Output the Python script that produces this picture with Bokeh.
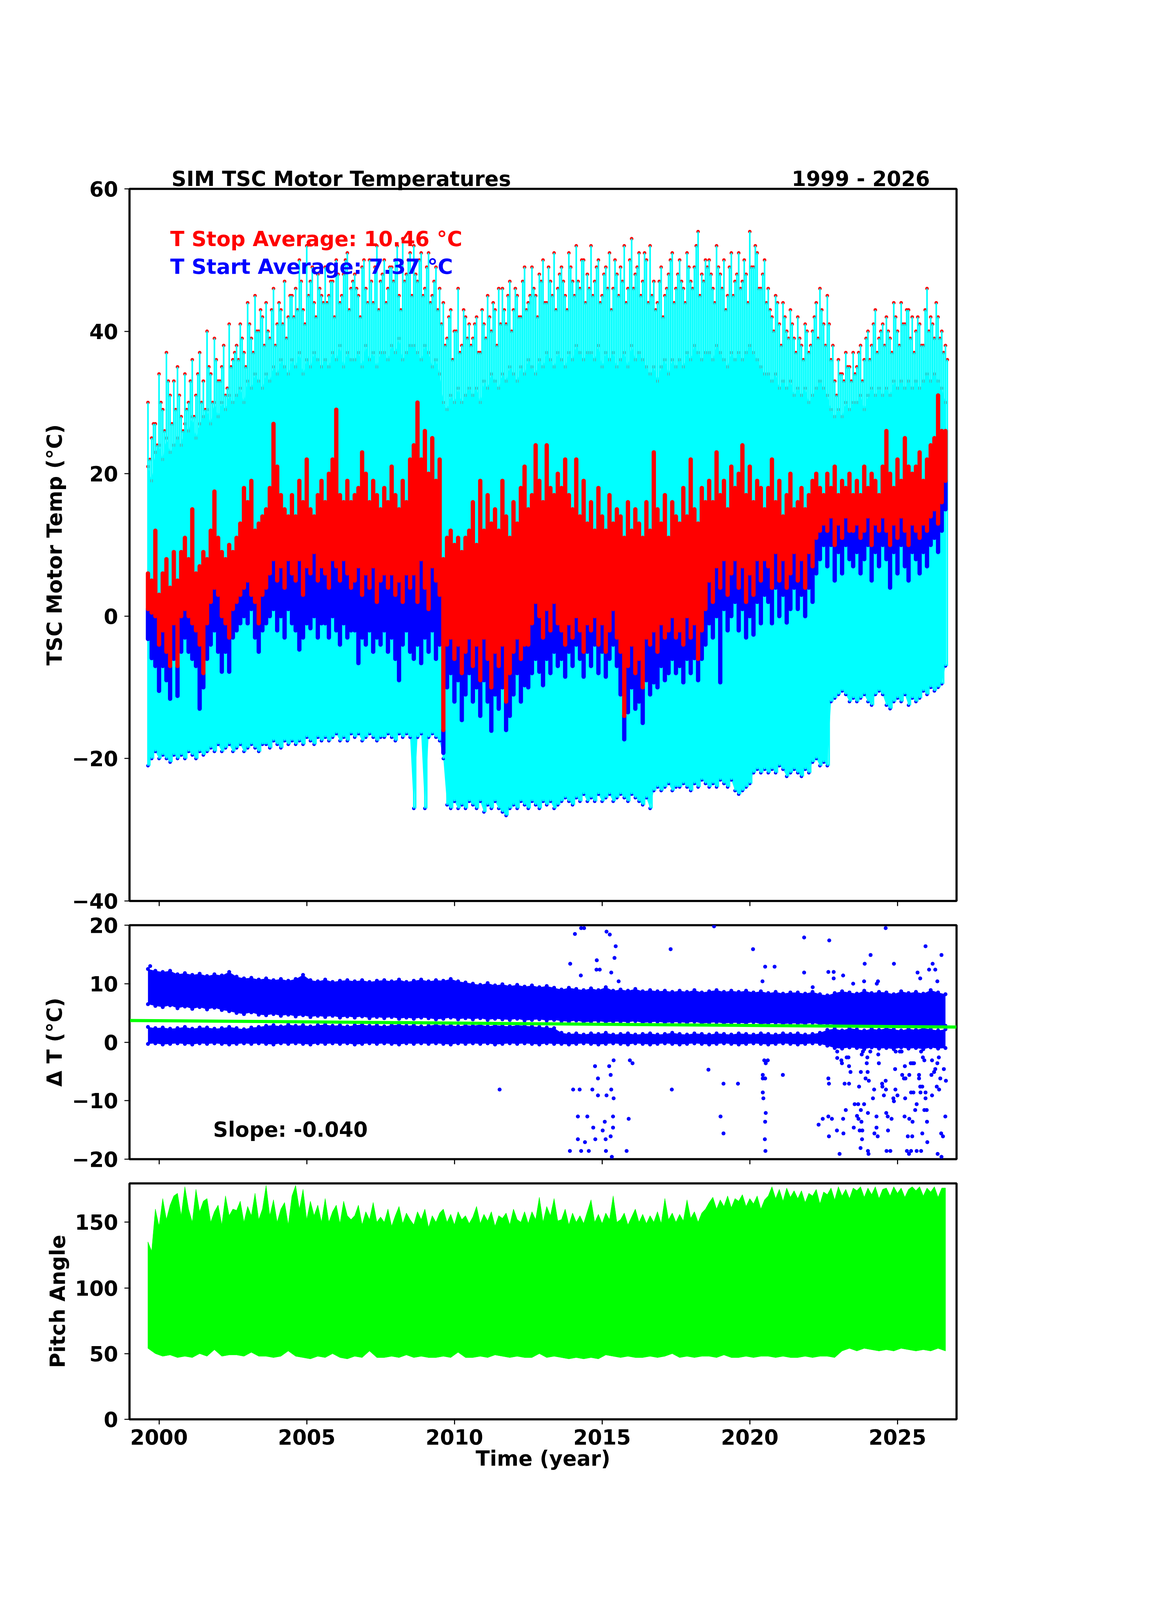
import numpy as np
from bokeh.plotting import figure
from bokeh.layouts import column
from bokeh.models import Range1d, Label, FixedTicker, LinearAxis
from bokeh.embed import file_html
from bokeh.resources import INLINE

FONT = "DejaVu Sans"
CYAN, RED, BLUE, GREEN = "#00ffff", "#ff0000", "#0000ff", "#00ff00"

# ---------------- time grids (years) ----------------
t_fine = np.round(np.arange(1999.625, 2026.626, 0.125), 4)     # 217 samples
t_mid = np.round(np.arange(1999.6875, 2026.69, 0.125), 4)      # 217 samples (between)
t_coarse = np.round(np.arange(1999.625, 2026.626, 0.25), 4)    # 109 samples

# ---------------- TSC motor temperatures (deg C) ----------------
spk_hi = [
    30, 25, 27, 34, 29, 37, 31, 33,
    35, 28, 34, 30, 36, 31, 37, 33,
    40, 34, 39, 33, 35, 31, 41, 36,
    38, 41, 37, 44, 39, 45, 40, 42,
    44, 39, 46, 41, 43, 47, 42, 45,
    46, 50, 43, 52, 47, 44, 48, 45,
    49, 45, 47, 50, 44, 48, 51, 46,
    48, 45, 49, 46, 50, 44, 52, 47,
    50, 46, 49, 50, 45, 53, 48, 51,
    52, 47, 51, 46, 51, 45, 49, 46,
    44, 39, 43, 40, 46, 38, 42, 41,
    39, 42, 37, 41, 45, 40, 43, 46,
    46, 41, 47, 43, 45, 42, 49, 44,
    49, 45, 48, 50, 44, 47, 51, 46,
    49, 45, 51, 47, 52, 46, 50, 48,
    52, 47, 50, 45, 49, 51, 46, 48,
    49, 52, 46, 53, 48, 51, 47, 50,
    52, 47, 44, 49, 45, 48, 51, 46,
    50, 46, 51, 47, 49, 54, 48, 50,
    50, 46, 52, 48, 50, 45, 51, 47,
    51, 47, 48, 54, 49, 51, 46, 50,
    46, 42, 45, 41, 44, 40, 43, 39,
    42, 38, 41, 37, 40, 44, 46, 41,
    45, 36, 33, 36, 34, 37, 35, 37,
    35, 38, 36, 40, 38, 43, 39, 41,
    42, 39, 44, 40, 44, 41, 43, 42,
    40, 41, 38, 46, 42, 39, 42, 40,
    38]

spk2_hi = [
    22, 27, 24, 30, 26, 33, 27, 29,
    31, 26, 29, 33, 28, 34, 30, 29,
    35, 30, 36, 33, 38, 32, 35, 37,
    36, 39, 35, 41, 37, 40, 43, 38,
    40, 43, 38, 44, 41, 39, 45, 42,
    43, 47, 41, 45, 49, 42, 46, 44,
    44, 47, 42, 48, 45, 50, 43, 47,
    46, 42, 50, 44, 47, 49, 43, 48,
    44, 49, 47, 52, 43, 47, 50, 45,
    48, 50, 45, 49, 44, 47, 43, 41,
    38, 42, 36, 40, 37, 43, 39, 38,
    41, 37, 43, 39, 42, 44, 38, 41,
    43, 45, 40, 46, 42, 47, 43, 45,
    46, 42, 47, 44, 49, 45, 43, 48,
    47, 43, 49, 45, 47, 50, 44, 46,
    45, 49, 44, 48, 46, 43, 50, 45,
    47, 44, 50, 46, 49, 45, 51, 44,
    45, 43, 47, 42, 46, 50, 44, 48,
    47, 44, 49, 46, 52, 45, 47, 49,
    48, 44, 49, 46, 43, 49, 45, 48,
    46, 50, 44, 49, 52, 46, 48, 44,
    43, 40, 44, 38, 42, 39, 41, 37,
    39, 36, 40, 38, 42, 39, 43, 38,
    41, 38, 31, 34, 33, 35, 33, 34,
    37, 33, 39, 36, 41, 37, 40, 38,
    40, 37, 42, 38, 41, 43, 39, 37,
    42, 38, 43, 40, 41, 44, 39, 37,
    36]

spk_lo = [
    -21, -20, -19, -20, -19.5, -20, -20.5, -19.5,
    -20, -19.5, -20, -19, -19.5, -20, -19, -19.5,
    -19, -18.5, -19, -18, -19, -18.5, -18, -19,
    -18.5, -18, -19, -18.5, -18, -18.5, -19, -18,
    -18, -18.5, -17.5, -18, -18.5, -17.5, -18, -17.5,
    -18, -17.5, -18, -17, -17.5, -18, -17, -17.5,
    -17, -17.5, -17, -16.5, -17.5, -17, -17.5, -16.5,
    -17, -16.5, -17.5, -17, -16.5, -17, -17.5, -17,
    -17, -16.5, -17, -17.5, -16.5, -17, -16.5, -17,
    -27, -17, -16.5, -27, -17, -16.5, -17, -17.5,
    -20, -26.5, -27, -26, -27, -26.5, -27, -26,
    -26.5, -27, -26, -27.5, -26.5, -27, -26, -27,
    -27.5, -28, -27, -26.5, -27, -26, -26.5, -27,
    -26, -26.5, -27, -26, -26.5, -26, -27, -26.5,
    -26, -25.5, -26, -26.5, -25.5, -26, -25, -26,
    -25.5, -26, -25, -26, -25.5, -25, -26, -25.5,
    -25, -25.5, -26, -25, -25.5, -26, -26.5, -25.5,
    -27, -24.5, -24, -24.5, -24, -23.5, -24.5, -24,
    -24, -23.5, -24, -24.5, -23.5, -24, -23, -23.5,
    -24, -23.5, -24, -23, -23.5, -24, -23, -24.5,
    -25, -24.5, -24, -23.5, -22, -21.5, -22, -21.5,
    -22, -21.5, -22, -21, -21.5, -22.5, -22, -21.5,
    -22, -22.5, -21.5, -22, -20.5, -20, -21, -20.5,
    -21, -12, -11.5, -11, -10.5, -11, -12, -11.5,
    -12, -11.5, -11, -12, -12.5, -11, -10.5, -11,
    -12.5, -13, -12, -11.5, -12, -11, -12.5, -11.5,
    -12, -11.5, -10.5, -11, -10, -10.5, -10, -9.5,
    -7]

core_top = [
    21, 19, 23, 24, 22, 25, 23, 24,
    25, 24, 27, 26, 28, 25, 27, 28,
    29, 27, 30, 28, 30, 29, 31, 30,
    31, 32, 30, 33, 32, 34, 33, 32,
    34, 33, 35, 34, 36, 35, 34, 36,
    35, 37, 34, 36, 35, 37, 36, 35,
    36, 35, 37, 36, 38, 35, 37, 36,
    36, 37, 35, 38, 36, 37, 35, 37,
    37, 36, 38, 37, 39, 36, 37, 38,
    38, 37, 36, 38, 37, 35, 36, 34,
    30, 29, 31, 30, 32, 30, 31, 32,
    31, 32, 30, 33, 32, 34, 33, 32,
    34, 33, 35, 34, 33, 35, 34, 36,
    35, 34, 36, 35, 37, 36, 35, 37,
    36, 35, 37, 36, 38, 37, 36, 37,
    37, 36, 38, 35, 37, 36, 37, 35,
    36, 37, 35, 38, 36, 37, 36, 35,
    34, 35, 33, 35, 36, 34, 36, 35,
    36, 35, 37, 36, 38, 37, 36, 37,
    37, 36, 38, 37, 36, 35, 37, 36,
    37, 36, 37, 38, 37, 36, 35, 34,
    34, 33, 34, 32, 33, 32, 33, 31,
    32, 31, 32, 30, 31, 32, 33, 32,
    31, 29, 28, 29, 28, 30, 29, 30,
    30, 31, 29, 31, 32, 31, 32, 31,
    32, 31, 33, 32, 33, 32, 33, 32,
    33, 32, 33, 34, 33, 34, 33, 32,
    30]

red_hi = [
    6, 5, 12, 3, 6, 8, 4, 9,
    5, 9, 11, 8, 15, 6, 7, 9,
    8, 12, 17.5, 11, 9, 8, 10, 9,
    11, 13, 18, 16, 19, 12, 13, 14,
    15, 18, 27, 21, 17, 15, 14, 17,
    14, 19, 16, 22, 15, 14, 17, 19,
    16, 20, 22, 29, 17, 16, 19, 16,
    17, 18, 23, 20, 16, 19, 17, 15,
    18, 16, 21, 17, 15, 19, 16, 22,
    24, 30, 22, 26, 20, 25, 19, 22,
    8, 11, 12, 10, 11, 9, 11, 12,
    16, 10, 19, 12, 17, 13, 15, 12,
    19, 14, 11, 16, 13, 18, 21, 15,
    17, 24, 19, 16, 24, 18, 17, 20,
    18, 22, 17, 15, 22, 14, 19, 13,
    16, 12, 18, 14, 12, 17, 13, 15,
    14, 11, 16, 12, 15, 13, 11, 16,
    12, 23, 15, 13, 17, 11, 16, 14,
    13, 18, 14, 22, 15, 13, 18, 16,
    19, 16, 23, 17, 19, 15, 21, 18,
    20, 24, 17, 21, 16, 19, 18, 15,
    18, 22, 16, 19, 14, 17, 20, 15,
    16, 18, 15, 17, 19, 20, 18, 17,
    20, 18, 21, 17, 19, 18, 20, 17,
    19, 17, 21, 18, 20, 19, 17, 21,
    26, 20, 18, 22, 19, 25, 21, 20,
    21, 23, 19, 22, 24, 25, 31, 26,
    26]

red_lo = [
    1, 0.5, 0, -4, -2, -5, -7, -1,
    -7, 0, 1, 0, -1, -2, -4, -8,
    -1, 2, 4, 3, 0, -1, -3, 1,
    2, 3, 4, 5, 3, 2, -1, 3,
    4, 6, 8, 5, 7, 4, 8, 6,
    5, 8, 3, 7, 6, 9, 5, 7,
    6, 4, 8, 7, 5, 8, 6, 4,
    5, 7, 3, 6, 4, 7, 2, 5,
    6, 4, 6, 3, 5, 2, 6, 4,
    6, 2, 8, 4, 1, 7, 5, 3,
    -16, -4, -3, -6, -4, -8, -5, -3,
    -7, -4, -9, -3, -6, -10, -5, -7,
    -4, -12, -8, -5, -3, -6, -4, -4,
    -1, 2, 0, -3, 1, -2, 2, -1,
    -2, -4, -1, -3, 0, -2, -5, -1,
    -2, 0, -4, -1, -5, -2, 1, -3,
    -5, -14, -7, -4, -8, -6, -10, -3,
    -4, -2, -5, -1, -3, -2, 0, -3,
    -2, -4, 0, -3, -1, -6, -2, 1,
    5, 2, 7, 4, 8, 3, 6, 8,
    4, 7, 2, 6, 3, 8, 5, 8,
    7, 4, 9, 5, 8, 4, 6, 9,
    5, 8, 4, 9, 7, 11, 12, 13,
    12, 14, 10, 13, 11, 14, 12, 12,
    13, 11, 12, 14, 10, 13, 12, 14,
    12, 10, 13, 11, 14, 12, 10, 13,
    12, 11, 13, 12, 14, 15, 13, 16,
    19]

blue_lo = [
    -3.2, -5.9, -7, -10.5, -7, -9, -11.6, -6,
    -11.2, -5, -3, -5, -6, -7, -13, -10,
    -6, -4, -2, -5, -7.8, -5, -7.8, -3,
    -2, -1, 0, -1, 1, -3, -5, -2,
    -1, 0, 1, -2, 0, -3, 1, -1,
    -2, -4.7, -3, -1, -1.7, 0, -3, -1,
    -1, -3, 0, -2, -4, -1, -3, -2,
    -2, -6.6, -3, -4, -2, -5, -3, -4,
    -2, -5, -3, -6, -9, -4, -2, -5,
    -6, -4, -6.6, -3, -5, -2, -6, -4,
    -19.2, -10, -8, -12, -9, -14.6, -11, -8,
    -12, -10, -14, -9, -12, -16.1, -11, -13,
    -10, -16, -14, -11, -8, -12, -9.7, -10,
    -8, -6, -7.8, -9.7, -6, -8, -5, -7,
    -6, -8.5, -5, -7, -4, -6, -8.5, -5,
    -7, -4, -8, -5, -8.5, -6, -4, -7,
    -11, -17.3, -13.5, -10, -13, -12, -15, -9,
    -11, -9.3, -10, -7, -9, -8, -6, -8,
    -7, -9.3, -6, -8, -5.9, -9, -6, -4,
    -1, -3, 0, -9.3, 1, -2, 0, 2,
    -2, 1, -3, 0, -2.6, 2, -1, 3,
    2, -1, 4, 0, 3, -0.9, 1, 4,
    1, 3, 0, 4, 2, 6, 8, 10,
    7, 10, 5, 9, 6, 10, 8, 7,
    9, 6, 8, 10, 5, 9, 7, 10,
    8, 4, 9, 6, 10, 7, 5, 9,
    8, 6, 9, 7, 10, 11, 9, 12,
    15]

# ---------------- Delta T (deg C) ----------------
ub_hi = [
    12.5, 12.2, 12.0, 12.2, 11.6, 11.8, 11.5, 11.7, 11.3, 11.6, 11.4, 12.0,
    11.2, 10.9, 11.0, 10.7, 10.9, 10.6, 10.8, 10.5, 10.8, 11.5, 10.6, 10.4,
    10.7, 10.3, 10.5, 10.6, 10.4, 10.6, 10.3, 10.5, 10.6, 10.4, 10.7, 10.3,
    10.5, 10.7, 10.4, 10.6, 10.5, 10.8, 10.4, 10.2, 10.0, 9.8, 10.1, 9.7,
    9.9, 9.6, 9.8, 9.5, 9.7, 9.4, 9.6, 9.3, 9.0, 9.3, 9.1, 8.9,
    9.2, 8.9, 9.4, 8.8, 9.0, 8.8, 9.1, 8.7, 8.9, 8.7, 8.8, 8.6,
    8.8, 8.6, 8.9, 8.5, 8.7, 8.9, 8.6, 8.8, 8.6, 8.8, 8.5, 8.7,
    8.4, 8.6, 8.3, 8.5, 8.5, 8.3, 8.6, 8.2, 8.0, 8.4, 8.7, 8.5,
    8.3, 8.8, 8.4, 8.6, 8.5, 8.2, 8.7, 8.4, 8.6, 8.3, 8.9, 8.5,
    8.2]
ub_lo = [
    6.5, 6.2, 6.0, 6.3, 5.8, 6.1, 5.7, 6.0, 5.6, 5.9, 5.5, 5.3,
    5.0, 4.8, 5.1, 4.7, 4.6, 4.8, 4.5, 4.7, 4.4, 4.6, 4.3, 4.5,
    4.3, 4.5, 4.2, 4.4, 4.2, 4.4, 4.1, 4.3, 4.1, 4.3, 4.0, 4.2,
    4.0, 4.2, 4.1, 3.9, 4.0, 4.2, 3.9, 4.1, 3.9, 4.1, 3.8, 4.0,
    3.9, 3.8, 4.0, 3.7, 3.8, 3.9, 3.7, 3.8, 3.6, 3.5, 3.7, 3.4,
    3.5, 3.6, 3.4, 3.5, 3.5, 3.4, 3.6, 3.3, 3.4, 3.5, 3.3, 3.4,
    3.4, 3.3, 3.5, 3.2, 3.3, 3.4, 3.2, 3.3, 3.3, 3.2, 3.4, 3.1,
    3.2, 3.3, 3.1, 3.2, 3.2, 3.1, 3.3, 3.0, 3.1, 3.0, 2.8, 2.9,
    2.8, 2.9, 2.7, 2.8, 2.9, 2.7, 2.8, 2.6, 2.8, 2.7, 2.9, 2.6,
    2.8]
lb_hi = [
    2.6, 2.4, 2.5, 2.3, 2.4, 2.6, 2.3, 2.5, 2.5, 2.3, 2.4, 2.6,
    2.4, 2.2, 2.5, 2.6, 2.8, 2.9, 2.7, 3.0, 2.8, 2.9, 2.7, 2.9,
    3.0, 2.8, 2.9, 2.7, 2.9, 3.0, 2.8, 2.9, 2.7, 2.9, 3.0, 2.8,
    2.9, 2.7, 2.8, 3.0, 2.8, 2.9, 2.7, 2.9, 2.8, 3.0, 2.7, 2.9,
    2.8, 2.7, 2.9, 2.8, 2.7, 2.6, 2.5, 2.4, 1.6, 1.4, 1.5, 1.3,
    1.5, 1.4, 1.6, 1.3, 1.4, 1.5, 1.3, 1.4, 1.5, 1.3, 1.4, 1.6,
    1.4, 1.3, 1.5, 1.4, 1.3, 1.5, 1.4, 1.3, 1.5, 1.4, 1.3, 1.5,
    1.4, 1.3, 1.5, 1.4, 1.5, 1.3, 1.4, 1.6, 2.1, 2.3, 2.0, 2.4,
    2.2, 2.0, 2.3, 2.1, 2.4, 2.2, 2.0, 2.3, 2.1, 2.4, 2.2, 2.0,
    2.2]
lb_lo = [
    -0.3, -0.2, -0.4, -0.3, -0.2, -0.3, -0.4, -0.2, -0.3, -0.2, -0.3, -0.4,
    -0.3, -0.2, -0.3, -0.2, -0.3, -0.4, -0.2, -0.3, -0.2, -0.3, -0.4, -0.2,
    -0.3, -0.2, -0.3, -0.2, -0.4, -0.3, -0.2, -0.3, -0.2, -0.3, -0.4, -0.2,
    -0.3, -0.2, -0.3, -0.2, -0.3, -0.4, -0.2, -0.3, -0.2, -0.3, -0.2, -0.4,
    -0.3, -0.2, -0.3, -0.2, -0.3, -0.4, -0.2, -0.3, -0.3, -0.4, -0.3, -0.2,
    -0.3, -0.4, -0.3, -0.2, -0.3, -0.4, -0.2, -0.3, -0.4, -0.3, -0.2, -0.3,
    -0.4, -0.3, -0.2, -0.3, -0.4, -0.3, -0.2, -0.3, -0.4, -0.3, -0.2, -0.3,
    -0.4, -0.3, -0.2, -0.3, -0.4, -0.3, -0.2, -0.3, -0.6, -1.0, -1.1, -0.9,
    -1.0, -1.2, -0.9, -1.1, -1.0, -1.2, -0.9, -1.1, -1.0, -1.2, -0.9, -1.1,
    -1.0]

dt_out_year = [
    1999.70, 2013.92, 2014.08, 2014.28, 2014.29, 2014.39, 2014.81, 2014.82, 2014.92, 2015.15,
    2015.26, 2015.31, 2015.42, 2015.46, 2015.56, 2017.32, 2018.79, 2020.11, 2020.43, 2020.52,
    2020.84, 2021.84, 2021.84, 2022.13, 2022.69, 2022.66, 2022.84, 2022.84, 2023.16, 2023.50,
    2023.87, 2023.89, 2024.09, 2024.34, 2024.30, 2024.60, 2024.88, 2025.68, 2025.77, 2025.95,
    2026.07, 2026.19, 2026.28, 2026.35, 2026.49,
    2011.53, 2013.91, 2014.02, 2014.18, 2014.18, 2014.24, 2014.29, 2014.42, 2014.50, 2014.55,
    2014.67, 2014.70, 2014.76, 2014.77, 2014.86, 2014.86, 2015.02, 2015.09, 2015.12, 2015.13,
    2015.15, 2015.24, 2015.29, 2015.29, 2015.31, 2015.33, 2015.37, 2015.37, 2015.39, 2015.39,
    2015.83, 2015.90, 2015.94, 2016.03, 2017.36, 2018.60, 2019.01, 2019.11, 2019.11, 2019.60,
    2020.44, 2020.44, 2020.44, 2020.46, 2020.49, 2020.51, 2020.52, 2020.53, 2020.54, 2020.54,
    2020.61, 2020.52, 2021.12, 2022.33, 2022.47, 2022.66, 2022.66, 2022.68, 2022.68, 2022.78,
    2022.95, 2022.96, 2022.96, 2023.04, 2023.10, 2023.12, 2023.16, 2023.17, 2023.21, 2023.28,
    2023.34, 2023.36, 2023.36, 2023.41, 2023.25, 2023.52, 2023.55, 2023.63, 2023.67, 2023.68,
    2023.70, 2023.72, 2023.75, 2023.76, 2023.78, 2023.80, 2023.81, 2023.76, 2023.79, 2023.83,
    2023.87, 2023.92, 2023.96, 2023.98, 2023.99, 2024.00, 2024.00, 2024.02, 2024.03, 2024.08,
    2024.17, 2024.21, 2024.22, 2024.29, 2024.29, 2024.33, 2024.35, 2024.37, 2024.48, 2024.49,
    2024.54, 2024.60, 2024.61, 2024.62, 2024.63, 2024.67, 2024.68, 2024.76, 2024.80, 2024.86,
    2024.88, 2024.92, 2024.93, 2024.94, 2025.00, 2025.08, 2025.14, 2025.16, 2025.22, 2025.24,
    2025.25, 2025.26, 2025.27, 2025.32, 2025.35, 2025.39, 2025.40, 2025.40, 2025.45, 2025.46,
    2025.46, 2025.50, 2025.51, 2025.51, 2025.54, 2025.56, 2025.60, 2025.65, 2025.65, 2025.73,
    2025.73, 2025.77, 2025.78, 2025.80, 2025.80, 2025.84, 2025.84, 2025.86, 2025.91, 2025.91,
    2025.95, 2025.95, 2025.99, 2026.01, 2026.00, 2026.17, 2026.17, 2026.15, 2026.24, 2026.28,
    2026.33, 2026.35, 2026.36, 2026.40, 2026.41, 2026.45, 2026.48, 2026.49, 2026.54, 2026.57,
    2026.62, 2026.64]
dt_out_val = [
    13.0, 13.4, 18.5, 11.4, 19.5, 19.5, 12.4, 14.0, 12.4, 18.9,
    18.4, 11.9, 14.4, 16.4, 10.4, 15.9, 19.8, 15.9, 10.4, 12.9,
    12.9, 17.9, 11.9, 9.4, 17.4, 12.0, 12.0, 10.9, 11.4, 10.0,
    10.4, 13.4, 14.9, 10.4, 10.0, 19.5, 13.4, 11.9, 10.9, 16.4,
    12.4, 13.4, 12.4, 10.4, 14.9,
    -8.1, -18.6, -8.1, -12.7, -16.6, -8.1, -18.6, -17.1, -12.7, -18.6,
    -8.1, -14.6, -4.1, -16.6, -6.2, -9.1, -15.1, -13.6, -16.6, -18.6,
    -9.1, -4.1, -5.6, -16.1, -8.1, -19.6, -12.7, -14.6, -3.1, -9.6,
    -18.6, -13.1, -3.1, -3.6, -8.1, -4.7, -12.7, -7.1, -15.6, -7.1,
    -5.6, -6.2, -8.6, -9.6, -3.1, -16.6, -13.6, -18.6, -12.1, -3.6,
    -3.1, -6.2, -5.6, -14.1, -13.1, -12.7, -6.2, -7.1, -16.1, -13.1,
    -15.1, -1.6, -2.7, -19.1, -3.1, -3.6, -13.1, -15.6, -7.1, -2.6,
    -2.6, -7.1, -4.1, -5.1, -11.6, -14.6, -10.6, -12.6, -10.6, -13.1,
    -7.6, -15.1, -18.1, -11.6, -13.6, -16.6, -15.1, -5.1, -2.1, -1.6,
    -10.6, -6.2, -3.6, -2.6, -5.1, -12.1, -18.6, -19.1, -6.6, -1.6,
    -9.6, -8.1, -15.6, -12.7, -14.6, -16.1, -2.1, -3.6, -7.1, -7.6,
    -9.1, -6.6, -8.1, -12.1, -18.6, -12.7, -15.1, -18.6, -13.1, -9.6,
    -10.1, -4.6, -8.1, -1.6, -9.1, -1.6, -1.6, -5.6, -6.2, -12.7,
    -4.1, -9.6, -6.2, -18.6, -16.1, -19.1, -13.1, -5.6, -3.6, -8.6,
    -18.6, -16.1, -13.6, -3.6, -8.6, -3.6, -11.6, -10.6, -18.6, -5.6,
    -6.2, -7.6, -8.6, -1.6, -18.6, -7.6, -15.6, -2.6, -3.1, -11.6,
    -9.6, -8.6, -11.6, -17.1, -13.6, -9.1, -3.1, -5.6, -5.1, -4.6,
    -7.6, -3.6, -19.1, -2.6, -8.1, -6.2, -15.6, -19.6, -16.1, -4.6,
    -12.7, -6.6]

fit_year = [1999.0, 2027.0]
fit_val = [3.71, 2.59]

# ---------------- Pitch angle (deg) ----------------
pitch_hi = [
    135, 128, 160, 147, 168, 152, 163, 170,
    172, 155, 177, 160, 150, 175, 158, 166,
    168, 150, 158, 163, 148, 170, 155, 160,
    159, 166, 150, 162, 155, 172, 152, 160,
    178, 155, 167, 150, 160, 165, 148, 170,
    178, 160, 175, 152, 166, 155, 163, 150,
    168, 150, 158, 163, 149, 166, 155, 152,
    155, 163, 148, 158, 152, 165, 150, 154,
    150, 160, 147, 155, 162, 149, 157, 152,
    148, 158, 152, 160, 146, 155, 150, 157,
    160, 150, 156, 148, 158, 152, 155, 149,
    154, 162, 149, 156, 151, 158, 147, 155,
    153, 157, 148, 160, 152, 150, 158, 149,
    158, 152, 169, 150, 162, 155, 168, 151,
    152, 160, 148, 157, 150, 155, 149, 158,
    167, 150, 156, 149, 157, 152, 170, 150,
    152, 157, 148, 154, 160, 150, 156, 149,
    155, 150, 158, 149, 168, 152, 157, 150,
    156, 151, 167, 153, 158, 150, 157, 160,
    165, 169, 160, 167, 162, 170, 161, 168,
    166, 171, 162, 168, 164, 170, 160, 167,
    170, 177, 168, 175, 166, 176, 169, 174,
    168, 174, 165, 172, 170, 175, 164, 173,
    171, 176, 167, 177, 170, 175, 168, 176,
    174, 177, 169, 176, 171, 177, 168, 175,
    176, 170, 177, 172, 176, 169, 175, 177,
    174, 177, 170, 176, 173, 177, 169, 176,
    176]
pitch_lo = [
    54, 50, 48, 49, 47, 48, 47, 50, 48, 53, 48, 49,
    49, 48, 51, 48, 48, 47, 48, 52, 48, 47, 46, 48,
    47, 50, 47, 46, 48, 47, 52, 47, 47, 48, 47, 49,
    47, 48, 47, 47, 48, 47, 51, 47, 47, 48, 47, 49,
    48, 47, 48, 47, 47, 50, 47, 48, 47, 46, 47, 46,
    47, 46, 49, 48, 47, 48, 47, 47, 48, 47, 48, 50,
    47, 48, 47, 48, 48, 47, 49, 47, 47, 48, 47, 48,
    48, 47, 48, 47, 47, 48, 47, 48, 48, 47, 52, 54,
    52, 54, 53, 52, 53, 52, 54, 53, 52, 53, 52, 54,
    52]

year_ticks = [2000, 2005, 2010, 2015, 2020, 2025]
title_texts = ["SIM TSC Motor Temperatures", "1999 - 2026"]
title_pos = [2006.17, 2023.76]

# ---------------- layout (CSS px) ----------------
FRAME_W = 2117
LEFT = 331
RIGHT = 150
GAP = 31
TOTAL_W = LEFT + FRAME_W + RIGHT
FS = "53px"


def font_axis(ax):
    ax.major_label_text_font = FONT
    ax.major_label_text_font_style = "bold"
    ax.major_label_text_font_size = FS
    ax.major_label_text_color = "black"
    ax.axis_label_text_font = FONT
    ax.axis_label_text_font_style = "bold"
    ax.axis_label_text_font_size = FS
    ax.axis_label_text_color = "black"


def style(p, yticks, overrides, ylabel, show_x):
    p.outline_line_color = "black"
    p.outline_line_width = 5.5
    p.grid.visible = False
    for ax in (p.xaxis[0], p.yaxis[0]):
        ax.axis_line_color = "black"
        ax.axis_line_width = 2.7
        ax.major_tick_in = 0
        ax.major_tick_out = 13
        ax.major_tick_line_width = 2.7
        ax.minor_tick_line_color = None
        font_axis(ax)
    xa = p.xaxis[0]
    if show_x:
        xa.ticker = FixedTicker(ticks=year_ticks)
        xa.major_label_standoff = 12
        xa.axis_label = "Time (year)"
        xa.axis_label_standoff = 2
    else:
        xa.ticker = FixedTicker(ticks=[], minor_ticks=year_ticks)
        xa.minor_tick_line_color = "black"
        xa.minor_tick_line_width = 2.7
        xa.minor_tick_in = 0
        xa.minor_tick_out = 13
    ya = p.yaxis[0]
    ya.ticker = FixedTicker(ticks=yticks)
    ya.major_label_overrides = overrides
    ya.major_label_standoff = 16
    ya.axis_label = ylabel
    ya.axis_label_standoff = 11


def txt(p, x, y, s, color="black"):
    p.add_layout(Label(x=x, y=y, text=s, text_color=color, text_align="left",
                       text_baseline="alphabetic", text_font=FONT,
                       text_font_style="bold", text_font_size=FS))


x_range = Range1d(1999, 2027)

# ---------------- panel 1: temperatures ----------------
p1 = figure(frame_width=FRAME_W, frame_height=1823, x_range=x_range,
            y_range=Range1d(-40, 60), output_backend="svg", toolbar_location=None,
            min_border_left=LEFT, min_border_right=RIGHT, min_border_top=483,
            min_border_bottom=GAP)
p1.varea(x=t_fine, y1=spk_lo, y2=core_top, fill_color=CYAN)
p1.scatter(x=t_fine, y=core_top, size=9, marker="circle", fill_color=RED, line_color=None)
p1.scatter(x=t_fine, y=spk_hi, size=9, marker="circle", fill_color=RED, line_color=None)
p1.scatter(x=t_mid, y=spk2_hi, size=9, marker="circle", fill_color=RED, line_color=None)
p1.scatter(x=t_fine, y=spk_lo, size=9, marker="circle", fill_color=BLUE, line_color=None)
p1.segment(x0=t_fine, y0=spk_lo, x1=t_fine, y1=spk_hi, line_color=CYAN, line_width=4.1)
p1.segment(x0=t_mid, y0=spk_lo, x1=t_mid, y1=spk2_hi, line_color=CYAN, line_width=4.1)
p1.segment(x0=t_fine, y0=blue_lo, x1=t_fine, y1=red_lo, line_color=BLUE, line_width=11,
           line_cap="round")
p1.segment(x0=t_fine, y0=red_lo, x1=t_fine, y1=red_hi, line_color=RED, line_width=11,
           line_cap="round")
style(p1, [-40, -20, 0, 20, 40, 60], {-40: "\u221240", -20: "\u221220"},
      "TSC Motor Temp (\u00b0C)", False)
top_ax = LinearAxis(ticker=FixedTicker(ticks=title_pos),
                    major_label_overrides=dict(zip(title_pos, title_texts)),
                    axis_line_color=None, major_tick_line_color=None,
                    minor_tick_line_color=None, major_tick_in=0, major_tick_out=0,
                    major_label_standoff=-4)
font_axis(top_ax)
p1.add_layout(top_ax, "above")
txt(p1, 2000.38, 53.0, "T Stop Average:  10.46 \u00b0C", color=RED)
txt(p1, 2000.38, 49.1, "T Start Average: 7.37 \u00b0C", color=BLUE)

# ---------------- panel 2: delta T ----------------
p2 = figure(frame_width=FRAME_W, frame_height=599, x_range=x_range,
            y_range=Range1d(-20, 20), output_backend="svg", toolbar_location=None,
            min_border_left=LEFT, min_border_right=RIGHT, min_border_top=GAP,
            min_border_bottom=GAP)
p2.varea(x=t_coarse, y1=ub_lo, y2=ub_hi, fill_color=BLUE)
p2.varea(x=t_coarse, y1=lb_lo, y2=lb_hi, fill_color=BLUE)
for arr in (ub_hi, ub_lo, lb_hi, lb_lo):
    p2.scatter(x=t_coarse, y=arr, size=10, marker="circle", fill_color=BLUE, line_color=None)
p2.scatter(x=dt_out_year, y=dt_out_val, size=10, marker="circle", fill_color=BLUE,
           line_color=None)
p2.line(x=fit_year, y=fit_val, line_color=GREEN, line_width=8)
style(p2, [-20, -10, 0, 10, 20], {-20: "\u221220", -10: "\u221210"},
      "\u0394 T (\u00b0C)", False)
txt(p2, 2001.83, -14.9, "Slope:  -0.040")

# ---------------- panel 3: pitch ----------------
p3 = figure(width=TOTAL_W, height=GAP + 604 + 180, x_range=x_range,
            y_range=Range1d(0, 179.5), output_backend="svg", toolbar_location=None,
            min_border_left=LEFT, min_border_right=RIGHT, min_border_top=GAP,
            min_border_bottom=180)
poly_x = np.concatenate([t_fine, t_coarse[::-1]])
poly_y = np.concatenate([np.array(pitch_hi, float), np.array(pitch_lo, float)[::-1]])
p3.patch(x=poly_x, y=poly_y, fill_color=GREEN, line_color=GREEN, line_width=1)
style(p3, [0, 50, 100, 150], {}, "Pitch Angle", True)

layout = column(p1, p2, p3, spacing=0)
open("out.html", "w").write(file_html(layout, INLINE))
